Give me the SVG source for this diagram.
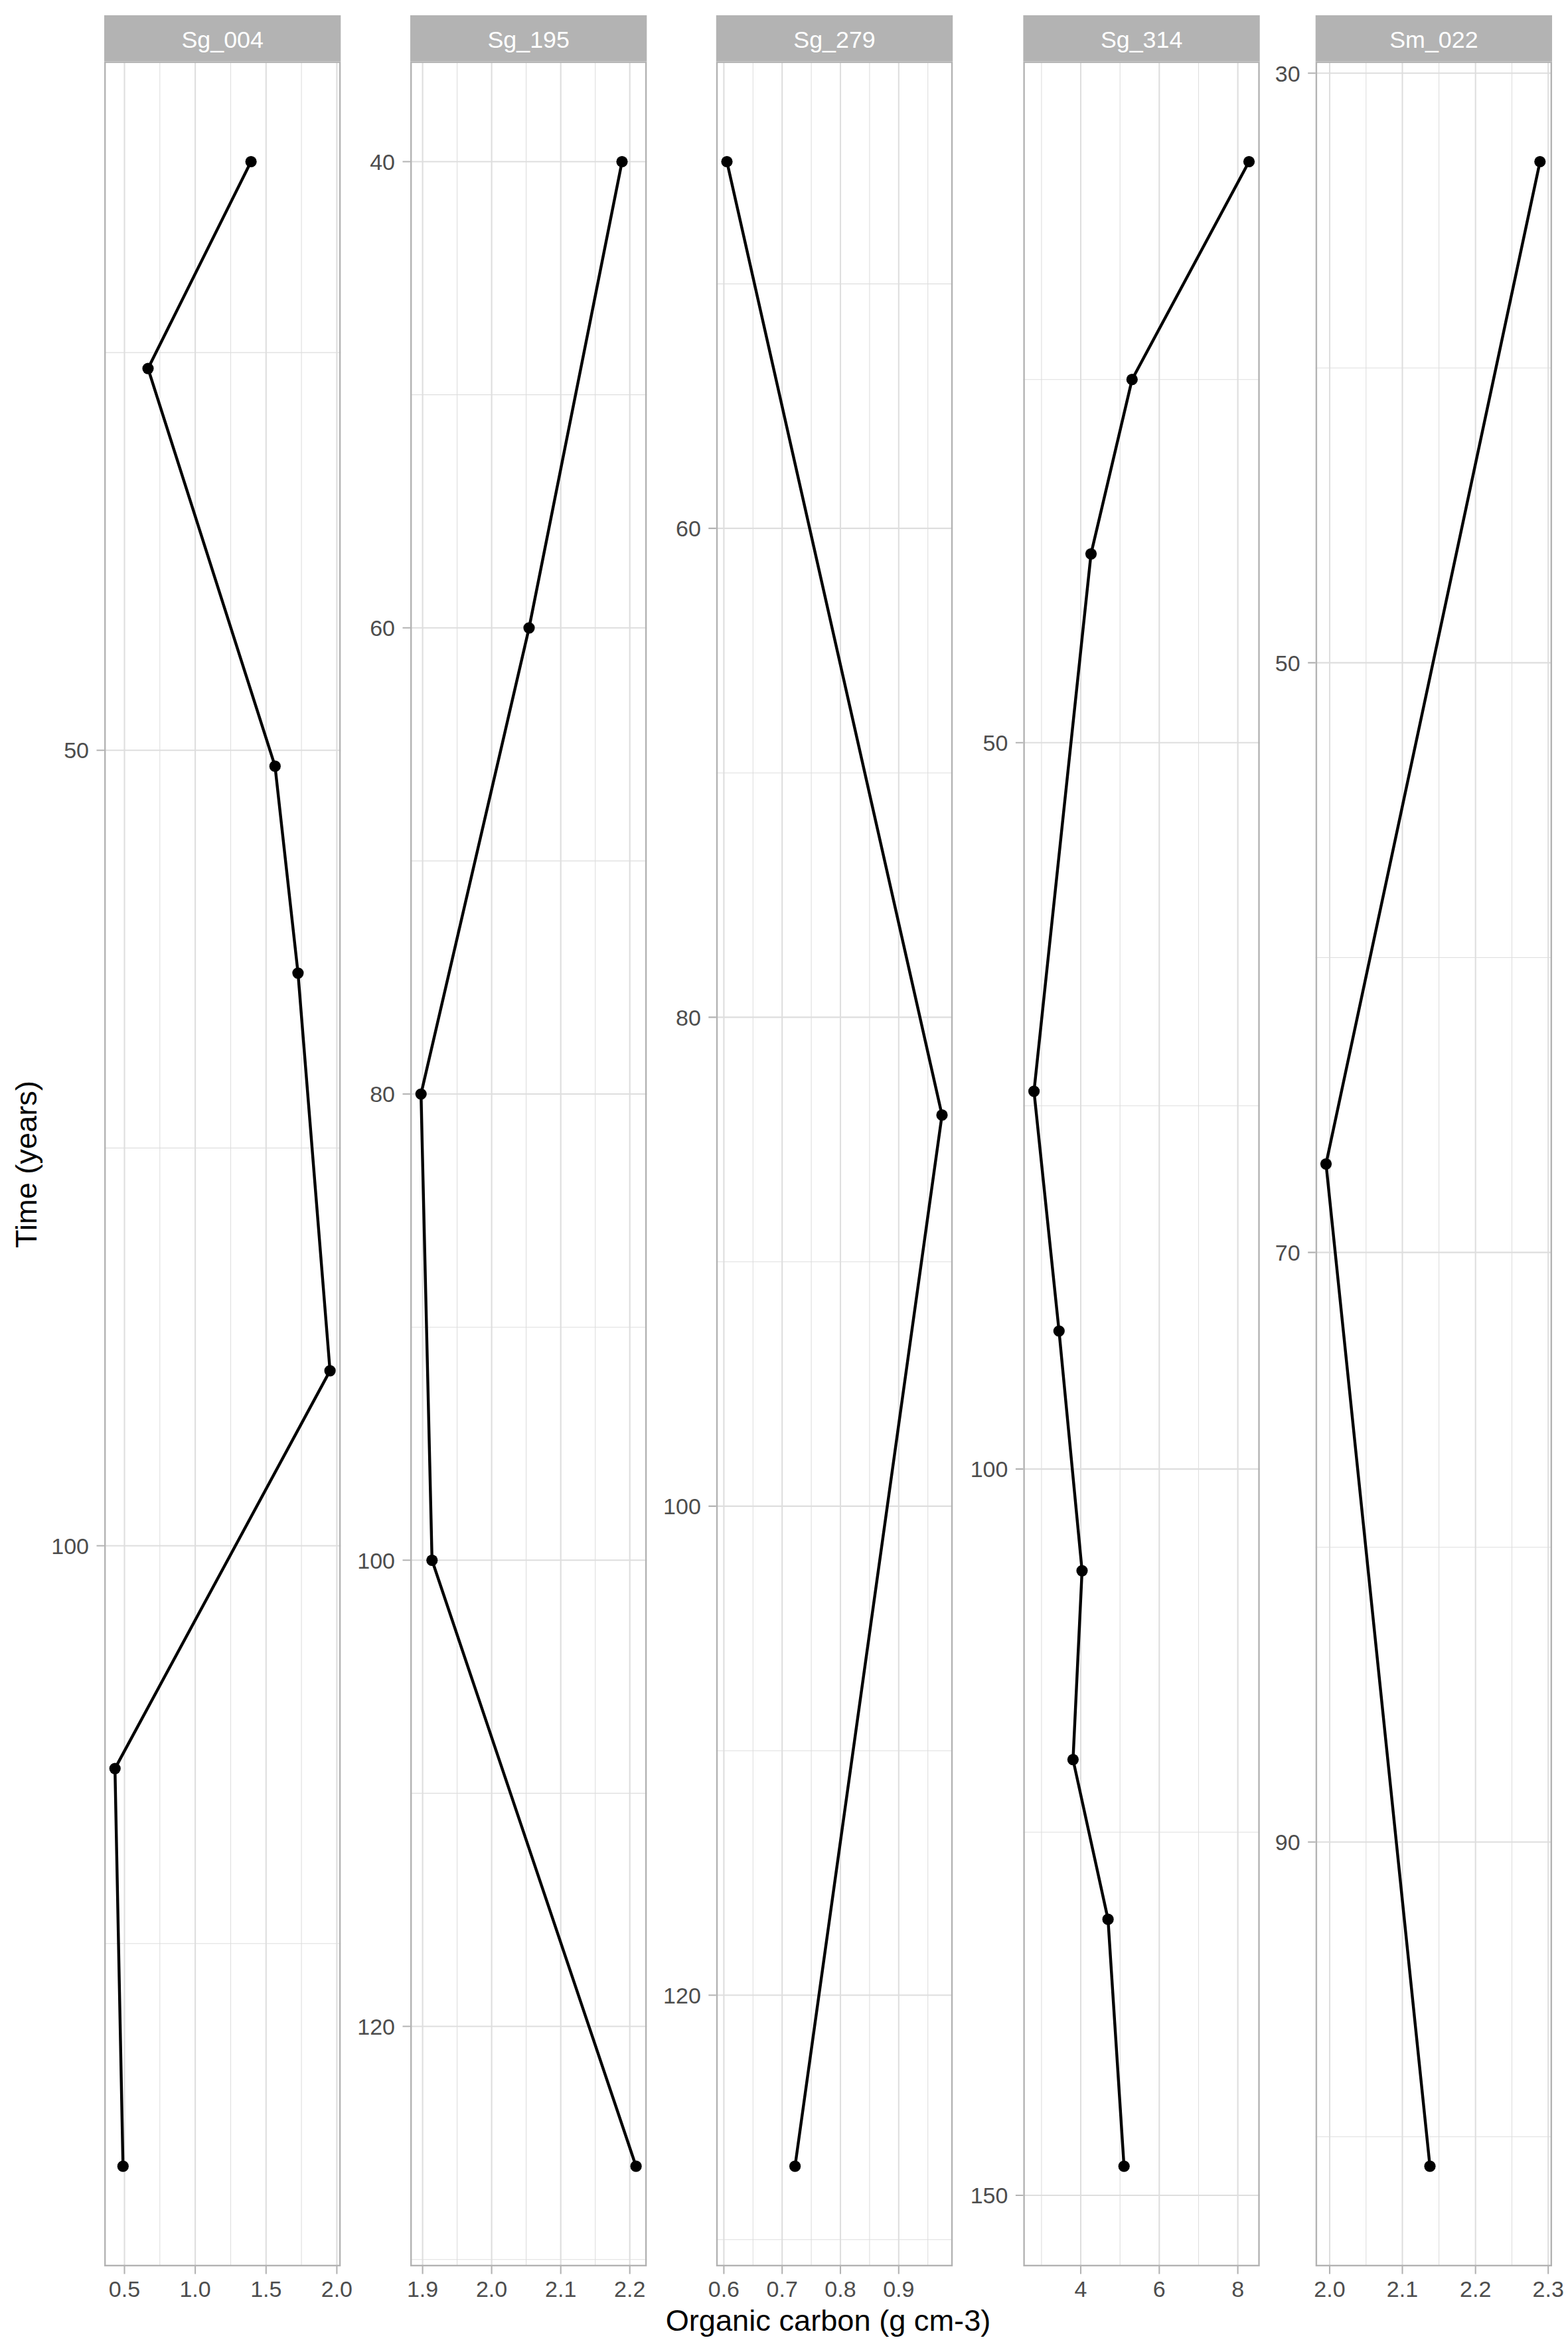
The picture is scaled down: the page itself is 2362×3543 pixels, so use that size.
<svg xmlns="http://www.w3.org/2000/svg" width="2362" height="3543" viewBox="0 0 2362 3543">
<style>
text{font-family:"Liberation Sans",Arial,Helvetica,sans-serif}
.strip{fill:#B3B3B3}
.st{fill:#FFFFFF;font-size:35.8px;text-anchor:middle}
.maj{stroke:#DEDEDE;stroke-width:2.1;fill:none}
.min{stroke:#DEDEDE;stroke-width:1.1;fill:none}
.border{fill:none;stroke:#B3B3B3;stroke-width:2.4}
.tick{stroke:#B3B3B3;stroke-width:2.1}
.yl{fill:#4D4D4D;font-size:34px;text-anchor:end}
.xl{fill:#4D4D4D;font-size:34px;text-anchor:middle}
.ttl{fill:#000000;font-size:45.2px;text-anchor:middle}
.data{fill:none;stroke:#000000;stroke-width:4.4;stroke-linejoin:round}
.pt{fill:#000000}
</style>
<rect x="0" y="0" width="2362" height="3543" fill="#FFFFFF"/>

<g id="panel-Sg_004">
<rect class="strip" x="157" y="23" width="356.3" height="69.5"/>
<text class="st" x="335.2" y="71.5">Sg_004</text>
<g class="min">
<path d="M157 531.1H513.3M157 1729.4H513.3M157 2927.7H513.3M240.8 92.5V3414M347.5 92.5V3414M454.1 92.5V3414"/>
</g>
<g class="maj">
<path d="M157 1130.2H513.3M157 2328.5H513.3M187.5 92.5V3414M294.1 92.5V3414M400.8 92.5V3414M507.4 92.5V3414"/>
</g>
<rect class="border" x="158.2" y="93.7" width="353.9" height="3319.1"/>
<path class="tick" d="M145.5 1130.2H157M145.5 2328.5H157M187.5 3414V3425.5M294.1 3414V3425.5M400.8 3414V3425.5M507.4 3414V3425.5"/>
<text class="yl" x="134" y="1142.4">50</text>
<text class="yl" x="134" y="2340.7">100</text>
<text class="xl" x="187.5" y="3460">0.5</text>
<text class="xl" x="294.1" y="3460">1.0</text>
<text class="xl" x="400.8" y="3460">1.5</text>
<text class="xl" x="507.4" y="3460">2.0</text>
</g>

<g id="panel-Sg_195">
<rect class="strip" x="618" y="23" width="356.3" height="69.5"/>
<text class="st" x="796.2" y="71.5">Sg_195</text>
<g class="min">
<path d="M618 594.6H974.3M618 1296.9H974.3M618 1999.2H974.3M618 2701.4H974.3M618 3403.7H974.3M688.6 92.5V3414M792.6 92.5V3414M896.7 92.5V3414"/>
</g>
<g class="maj">
<path d="M618 243.5H974.3M618 945.8H974.3M618 1648H974.3M618 2350.3H974.3M618 3052.5H974.3M636.6 92.5V3414M740.6 92.5V3414M844.7 92.5V3414M948.7 92.5V3414"/>
</g>
<rect class="border" x="619.2" y="93.7" width="353.9" height="3319.1"/>
<path class="tick" d="M606.5 243.5H618M606.5 945.8H618M606.5 1648H618M606.5 2350.3H618M606.5 3052.5H618M636.6 3414V3425.5M740.6 3414V3425.5M844.7 3414V3425.5M948.7 3414V3425.5"/>
<text class="yl" x="595" y="255.7">40</text>
<text class="yl" x="595" y="958">60</text>
<text class="yl" x="595" y="1660.2">80</text>
<text class="yl" x="595" y="2362.5">100</text>
<text class="yl" x="595" y="3064.7">120</text>
<text class="xl" x="636.6" y="3460">1.9</text>
<text class="xl" x="740.6" y="3460">2.0</text>
<text class="xl" x="844.7" y="3460">2.1</text>
<text class="xl" x="948.7" y="3460">2.2</text>
</g>

<g id="panel-Sg_279">
<rect class="strip" x="1078.8" y="23" width="356.4" height="69.5"/>
<text class="st" x="1257" y="71.5">Sg_279</text>
<g class="min">
<path d="M1078.8 427.6H1435.2M1078.8 1164.2H1435.2M1078.8 1900.7H1435.2M1078.8 2637.2H1435.2M1078.8 3373.7H1435.2M1134.3 92.5V3414M1222.1 92.5V3414M1309.9 92.5V3414M1397.7 92.5V3414"/>
</g>
<g class="maj">
<path d="M1078.8 795.9H1435.2M1078.8 1532.4H1435.2M1078.8 2268.9H1435.2M1078.8 3005.5H1435.2M1090.4 92.5V3414M1178.2 92.5V3414M1266 92.5V3414M1353.8 92.5V3414"/>
</g>
<rect class="border" x="1080" y="93.7" width="354" height="3319.1"/>
<path class="tick" d="M1067.3 795.9H1078.8M1067.3 1532.4H1078.8M1067.3 2268.9H1078.8M1067.3 3005.5H1078.8M1090.4 3414V3425.5M1178.2 3414V3425.5M1266 3414V3425.5M1353.8 3414V3425.5"/>
<text class="yl" x="1055.8" y="808.1">60</text>
<text class="yl" x="1055.8" y="1544.6">80</text>
<text class="yl" x="1055.8" y="2281.1">100</text>
<text class="yl" x="1055.8" y="3017.7">120</text>
<text class="xl" x="1090.4" y="3460">0.6</text>
<text class="xl" x="1178.2" y="3460">0.7</text>
<text class="xl" x="1266" y="3460">0.8</text>
<text class="xl" x="1353.8" y="3460">0.9</text>
</g>

<g id="panel-Sg_314">
<rect class="strip" x="1541.4" y="23" width="356.3" height="69.5"/>
<text class="st" x="1719.6" y="71.5">Sg_314</text>
<g class="min">
<path d="M1541.4 571.7H1897.7M1541.4 1665.8H1897.7M1541.4 2760H1897.7M1568.9 92.5V3414M1687.2 92.5V3414M1805.5 92.5V3414"/>
</g>
<g class="maj">
<path d="M1541.4 1118.8H1897.7M1541.4 2212.9H1897.7M1541.4 3307H1897.7M1628 92.5V3414M1746.3 92.5V3414M1864.6 92.5V3414"/>
</g>
<rect class="border" x="1542.6" y="93.7" width="353.9" height="3319.1"/>
<path class="tick" d="M1529.9 1118.8H1541.4M1529.9 2212.9H1541.4M1529.9 3307H1541.4M1628 3414V3425.5M1746.3 3414V3425.5M1864.6 3414V3425.5"/>
<text class="yl" x="1518.4" y="1131">50</text>
<text class="yl" x="1518.4" y="2225.1">100</text>
<text class="yl" x="1518.4" y="3319.2">150</text>
<text class="xl" x="1628" y="3460">4</text>
<text class="xl" x="1746.3" y="3460">6</text>
<text class="xl" x="1864.6" y="3460">8</text>
</g>

<g id="panel-Sm_022">
<rect class="strip" x="1981.7" y="23" width="356.3" height="69.5"/>
<text class="st" x="2159.9" y="71.5">Sm_022</text>
<g class="min">
<path d="M1981.7 554.3H2338M1981.7 1442.5H2338M1981.7 2330.7H2338M1981.7 3218.8H2338M2057.8 92.5V3414M2167.6 92.5V3414M2277.5 92.5V3414"/>
</g>
<g class="maj">
<path d="M1981.7 110.3H2338M1981.7 998.4H2338M1981.7 1886.6H2338M1981.7 2774.7H2338M2003 92.5V3414M2112.5 92.5V3414M2222.7 92.5V3414M2332.2 92.5V3414"/>
</g>
<rect class="border" x="1982.9" y="93.7" width="353.9" height="3319.1"/>
<path class="tick" d="M1970.2 110.3H1981.7M1970.2 998.4H1981.7M1970.2 1886.6H1981.7M1970.2 2774.7H1981.7M2003 3414V3425.5M2112.5 3414V3425.5M2222.7 3414V3425.5M2332.2 3414V3425.5"/>
<text class="yl" x="1958.7" y="122.5">30</text>
<text class="yl" x="1958.7" y="1010.6">50</text>
<text class="yl" x="1958.7" y="1898.8">70</text>
<text class="yl" x="1958.7" y="2786.9">90</text>
<text class="xl" x="2003" y="3460">2.0</text>
<text class="xl" x="2112.5" y="3460">2.1</text>
<text class="xl" x="2222.7" y="3460">2.2</text>
<text class="xl" x="2332.2" y="3460">2.3</text>
</g>

<g id="connectors">
<polyline class="data" points="378.1,243.5 223,555.1 414.3,1154.2 448.9,1465.8 497.1,2064.9 173.2,2664.1 185.3,3263.2"/>
<polyline class="data" points="937,243.5 797,945.8 634.2,1648 650.8,2350.3 958.1,3263.2"/>
<polyline class="data" points="1095,243.5 1419,1679.7 1197.6,3263.2"/>
<polyline class="data" points="1881.5,243.5 1705.3,571.7 1643.5,834.3 1557.6,1643.9 1595.3,2005 1630,2366.1 1616.4,2650.6 1669.1,2891.2 1693.2,3263.2"/>
<polyline class="data" points="2319.8,243.5 1997.5,1753.3 2154,3263.2"/>
</g>

<g id="points">
<circle class="pt" cx="378.1" cy="243.5" r="8.6"/>
<circle class="pt" cx="223" cy="555.1" r="8.6"/>
<circle class="pt" cx="414.3" cy="1154.2" r="8.6"/>
<circle class="pt" cx="448.9" cy="1465.8" r="8.6"/>
<circle class="pt" cx="497.1" cy="2064.9" r="8.6"/>
<circle class="pt" cx="173.2" cy="2664.1" r="8.6"/>
<circle class="pt" cx="185.3" cy="3263.2" r="8.6"/>
<circle class="pt" cx="937" cy="243.5" r="8.6"/>
<circle class="pt" cx="797" cy="945.8" r="8.6"/>
<circle class="pt" cx="634.2" cy="1648" r="8.6"/>
<circle class="pt" cx="650.8" cy="2350.3" r="8.6"/>
<circle class="pt" cx="958.1" cy="3263.2" r="8.6"/>
<circle class="pt" cx="1095" cy="243.5" r="8.6"/>
<circle class="pt" cx="1419" cy="1679.7" r="8.6"/>
<circle class="pt" cx="1197.6" cy="3263.2" r="8.6"/>
<circle class="pt" cx="1881.5" cy="243.5" r="8.6"/>
<circle class="pt" cx="1705.3" cy="571.7" r="8.6"/>
<circle class="pt" cx="1643.5" cy="834.3" r="8.6"/>
<circle class="pt" cx="1557.6" cy="1643.9" r="8.6"/>
<circle class="pt" cx="1595.3" cy="2005" r="8.6"/>
<circle class="pt" cx="1630" cy="2366.1" r="8.6"/>
<circle class="pt" cx="1616.4" cy="2650.6" r="8.6"/>
<circle class="pt" cx="1669.1" cy="2891.2" r="8.6"/>
<circle class="pt" cx="1693.2" cy="3263.2" r="8.6"/>
<circle class="pt" cx="2319.8" cy="243.5" r="8.6"/>
<circle class="pt" cx="1997.5" cy="1753.3" r="8.6"/>
<circle class="pt" cx="2154" cy="3263.2" r="8.6"/>
</g>

<g id="axis-titles">
<text class="ttl" x="1247.5" y="3511">Organic carbon (g cm-3)</text>
<text class="ttl" transform="translate(55,1754) rotate(-90)" x="0" y="0">Time (years)</text>
</g>
</svg>
